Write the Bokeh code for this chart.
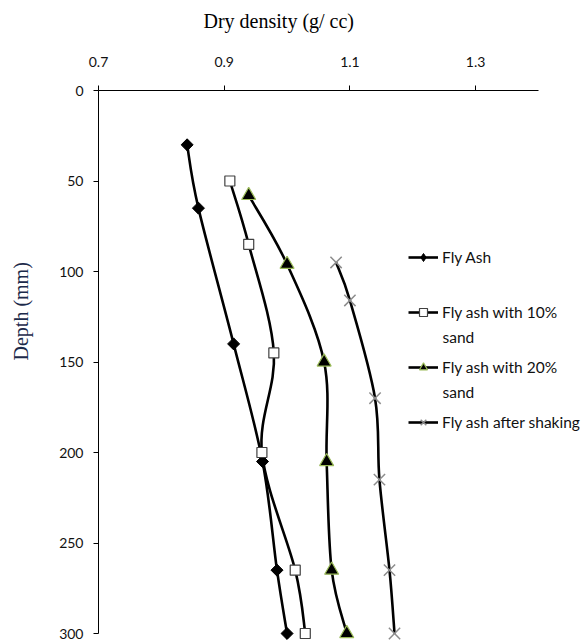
import numpy as np
from bokeh.plotting import figure
from bokeh.models import (Range1d, FixedTicker, Label, Legend, LegendItem, ColumnDataSource, Title)
from bokeh.embed import file_html
from bokeh.resources import INLINE

# ---- data ----
fly_ash_density = [0.841, 0.859, 0.915, 0.961, 0.984, 1.000]
fly_ash_depth = [30, 65, 140, 205, 265, 300]

sand10_density = [0.909, 0.939, 0.979, 0.960, 1.013, 1.029]
sand10_depth = [50, 85, 145, 200, 265, 300]

sand20_density = [0.939, 1.000, 1.059, 1.063, 1.071, 1.095]
sand20_depth = [58, 96, 150, 205, 265, 300]

shaking_density = [1.078, 1.100, 1.140, 1.147, 1.163, 1.171]
shaking_depth = [95, 116, 170, 215, 265, 300]

x_ticks = [0.7, 0.9, 1.1, 1.3]
y_ticks = [0, 50, 100, 150, 200, 250, 300]
x_bounds = (0.7, 1.4)
y_bounds = (0, 300)

x_title = "Dry density (g/ cc)"
y_title = "Depth (mm)"
series_names = ["Fly Ash", "Fly ash with 10%", "Fly ash with 20%", "Fly ash after shaking"]
second_lines = ["sand", "sand"]

TICK_FONT = "Lato"

p = figure(width=585, height=640, output_backend="svg", toolbar_location=None,
           x_axis_location="above",
           x_range=Range1d(0.7, 0.7 + 487 / 628.5), y_range=Range1d(550 / 1.81, 0),
           min_border_left=98, min_border_right=0, min_border_top=90, min_border_bottom=0)
p.outline_line_color = None
p.grid.visible = False
p.background_fill_color = "white"

# title with an empty second line, which lifts the text away from the axis
p.title.text = x_title + "\n "
p.title.align = "left"
p.title.offset = 105
p.title.standoff = 0
p.title.text_line_height = 1.0
p.title.text_font = "Liberation Serif"
p.title.text_font_size = "20px"
p.title.text_font_style = "normal"
p.title.text_color = "black"

for ax in (p.xaxis[0], p.yaxis[0]):
    ax.axis_line_color = "black"
    ax.axis_line_width = 1
    ax.major_tick_line_color = "black"
    ax.major_tick_in = 0
    ax.major_tick_out = 5
    ax.minor_tick_line_color = None
    ax.major_label_text_font = TICK_FONT
    ax.major_label_text_font_size = "14px"
    ax.major_label_text_color = "#111111"

p.xaxis[0].ticker = FixedTicker(ticks=x_ticks)
p.xaxis[0].bounds = x_bounds
p.xaxis[0].major_label_standoff = 19
p.yaxis[0].ticker = FixedTicker(ticks=y_ticks)
p.yaxis[0].bounds = y_bounds
p.yaxis[0].major_label_standoff = 10

p.add_layout(Title(text=y_title + "\n ", align="left", offset=280, standoff=6,
                   text_line_height=1.0, text_font="Liberation Serif", text_font_size="20px",
                   text_font_style="normal", text_color="#1c2a4a"), "left")


def bezier_source(xs, ys):
    pts = np.column_stack([xs, ys]).astype(float)
    n = len(pts)
    x0, y0, x1, y1, cx0, cy0, cx1, cy1 = ([] for _ in range(8))
    for i in range(n - 1):
        a = pts[i - 1] if i > 0 else pts[i]
        b = pts[i]
        c = pts[i + 1]
        d = pts[i + 2] if i + 2 < n else pts[i + 1]
        k0 = b + (c - a) / 6.0
        k1 = c - (d - b) / 6.0
        x0.append(b[0]); y0.append(b[1]); x1.append(c[0]); y1.append(c[1])
        cx0.append(k0[0]); cy0.append(k0[1]); cx1.append(k1[0]); cy1.append(k1[1])
    return ColumnDataSource(dict(x0=x0, y0=y0, x1=x1, y1=y1, cx0=cx0, cy0=cy0, cx1=cx1, cy1=cy1))


# (legend marker style, optional on-chart overlay style)
series = [
    (fly_ash_density, fly_ash_depth,
     dict(marker="diamond", size=11, fill_color="black", line_color="black", line_width=1),
     dict(marker="square", size=8.5, angle=np.pi / 4, fill_color="black", line_color="black",
          line_width=1)),
    (sand10_density, sand10_depth,
     dict(marker="square", size=10, fill_color="white", line_color="#404040", line_width=1.2),
     None),
    (sand20_density, sand20_depth,
     dict(marker="triangle", size=14, fill_color="black", line_color="#9bbb59", line_width=1.2),
     None),
    (shaking_density, shaking_depth,
     dict(marker="x", size=16, line_color="#8c8c8c", line_width=1.5),
     None),
]

items = []
for (xs, ys, mk, overlay), name in zip(series, series_names):
    src = bezier_source(xs, ys)
    lr = p.bezier(x0="x0", y0="y0", x1="x1", y1="y1", cx0="cx0", cy0="cy0", cx1="cx1", cy1="cy1",
                  source=src, line_color="black", line_width=2.6)
    sr = p.scatter(x=xs, y=ys, **mk)
    if overlay is not None:
        p.scatter(x=xs, y=ys, **overlay)
    items.append(LegendItem(label=name, renderers=[lr, sr]))

legend = Legend(items=items, location=(310, 208), orientation="vertical",
                spacing=35, padding=0, margin=0, glyph_width=30, glyph_height=20,
                label_height=20, label_standoff=4, border_line_color=None,
                background_fill_alpha=0, label_text_font=TICK_FONT,
                label_text_font_size="15.5px", label_text_color="#111111")
p.add_layout(legend, "center")

for txt, yy in zip(second_lines, (304, 249)):
    p.add_layout(Label(x=344, y=yy, x_units="screen", y_units="screen", text=txt,
                       text_font=TICK_FONT, text_font_size="15.5px", text_color="#111111",
                       text_baseline="middle", text_align="left"))

open("out.html", "w").write(file_html(p, INLINE))
